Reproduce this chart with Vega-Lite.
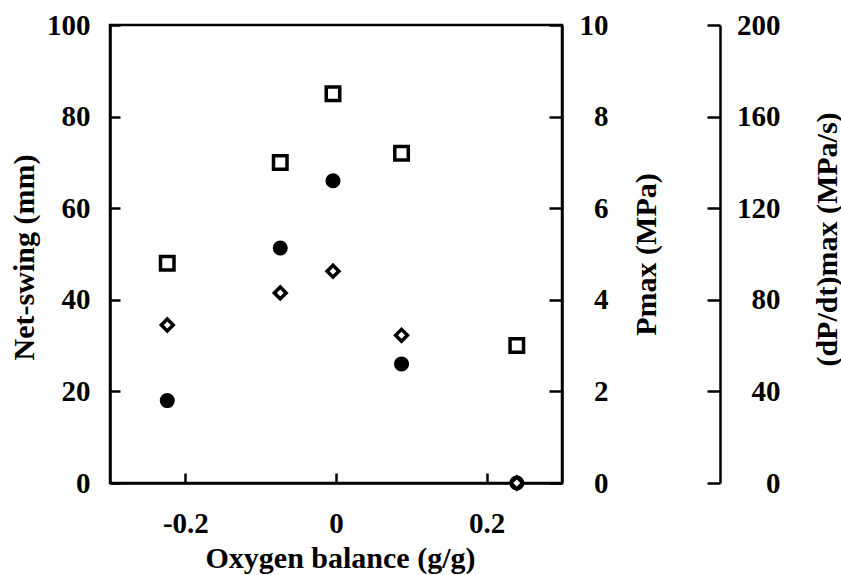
{
  "$schema": "https://vega.github.io/schema/vega-lite/v6.json",
  "width": 452,
  "height": 458,
  "autosize": {"type": "none"},
  "padding": {"left": 110, "top": 25, "right": 279, "bottom": 92},
  "background": "white",
  "config": {
    "view": {"stroke": "black", "strokeWidth": 2.5},
    "font": "Liberation Serif",
    "axis": {
      "labelFont": "Liberation Serif",
      "titleFont": "Liberation Serif",
      "labelFontSize": 29,
      "titleFontSize": 30,
      "labelFontWeight": "bold",
      "titleFontWeight": "bold",
      "labelColor": "black",
      "titleColor": "black",
      "domainColor": "black",
      "tickColor": "black",
      "domainWidth": 2.5,
      "tickWidth": 2.5,
      "grid": false
    }
  },
  "datasets": {
    "netswing": [
      {"ob": -0.224, "v": 18},
      {"ob": -0.074, "v": 51.3},
      {"ob": -0.004, "v": 66},
      {"ob": 0.087, "v": 26},
      {"ob": 0.24, "v": 0}
    ],
    "pmax": [
      {"ob": -0.224, "v": 4.8},
      {"ob": -0.074, "v": 7.0},
      {"ob": -0.004, "v": 8.5},
      {"ob": 0.087, "v": 7.2},
      {"ob": 0.24, "v": 3.0}
    ],
    "dpdt": [
      {"ob": -0.224, "v": 69},
      {"ob": -0.074, "v": 83},
      {"ob": -0.004, "v": 92.5},
      {"ob": 0.087, "v": 64.5},
      {"ob": 0.24, "v": 0}
    ]
  },
  "encoding": {
    "x": {
      "field": "ob",
      "type": "quantitative",
      "scale": {"domain": [-0.3, 0.3], "nice": false, "zero": false},
      "axis": {
        "title": "Oxygen balance (g/g)",
        "values": [-0.2, 0, 0.2],
        "tickSize": -10,
        "labelPadding": 36,
        "titleY": 84,
        "titleX": 230,
        "titleBaseline": "alphabetic",
        "format": ".1~f",
        "labelExpr": "replace(datum.label, '\u2212', '-')"
      }
    }
  },
  "layer": [
    {
      "data": {"name": "netswing"},
      "mark": {"type": "point", "shape": "circle", "filled": true, "color": "black", "size": 227, "opacity": 1, "clip": false},
      "encoding": {
        "y": {
          "field": "v",
          "type": "quantitative",
          "scale": {"domain": [0, 100], "nice": false},
          "axis": {
            "orient": "left",
            "title": "Net-swing (mm)",
            "values": [0, 20, 40, 60, 80, 100],
            "tickSize": -10,
            "labelPadding": 30,
            "titleX": -86,
            "titleY": 232,
            "titleAngle": 270,
            "titleBaseline": "middle",
            "titleAlign": "center"
          }
        }
      }
    },
    {
      "data": {"name": "pmax"},
      "mark": {"type": "point", "shape": "square", "filled": false, "stroke": "black", "strokeWidth": 3.5, "size": 182, "opacity": 1, "clip": false},
      "encoding": {
        "y": {
          "field": "v",
          "type": "quantitative",
          "scale": {"domain": [0, 10], "nice": false},
          "axis": {
            "orient": "right",
            "title": "Pmax (MPa)",
            "values": [0, 2, 4, 6, 8, 10],
            "tickSize": -13,
            "labelPadding": 59,
            "labelAlign": "right",
            "titleX": 84,
            "titleY": 229,
            "titleAngle": 270,
            "titleBaseline": "middle",
            "titleAlign": "center"
          }
        }
      }
    },
    {
      "data": {"name": "dpdt"},
      "mark": {"type": "point", "shape": "diamond", "filled": true, "fill": "white", "stroke": "black", "strokeWidth": 3.5, "size": 140, "opacity": 1, "clip": false},
      "encoding": {
        "y": {
          "field": "v",
          "type": "quantitative",
          "scale": {"domain": [0, 200], "nice": false},
          "axis": {
            "orient": "right",
            "offset": 158,
            "title": "(dP/dt)max (MPa/s)",
            "values": [0, 40, 80, 120, 160, 200],
            "tickSize": -13,
            "labelPadding": 73,
            "labelAlign": "right",
            "titleX": 107,
            "titleY": 214,
            "titleAngle": 270,
            "titleBaseline": "middle",
            "titleAlign": "center"
          }
        }
      }
    }
  ],
  "resolve": {"scale": {"y": "independent"}, "axis": {"y": "independent"}}
}
